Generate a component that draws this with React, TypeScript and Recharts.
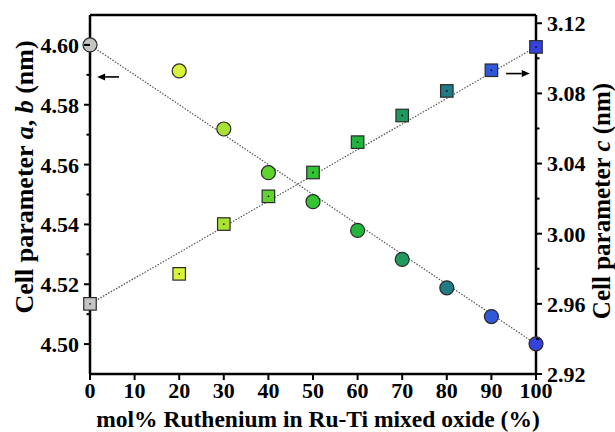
import React from 'react';
import { ComposedChart, Scatter, XAxis, YAxis, ReferenceLine } from 'recharts';

// ---- data ----
const molPercent = [0, 20, 30, 40, 50, 60, 70, 80, 90, 100];
const cellAB = [4.6, 4.5913, 4.5719, 4.5573, 4.5476, 4.538, 4.5283, 4.5188, 4.5092, 4.5001];
const cellC = [2.96, 2.9771, 3.0055, 3.0213, 3.0349, 3.0522, 3.0674, 3.0814, 3.0932, 3.1065];
const xTicks = [0, 10, 20, 30, 40, 50, 60, 70, 80, 90, 100];
const leftTicks = [4.5, 4.51, 4.52, 4.53, 4.54, 4.55, 4.56, 4.57, 4.58, 4.59, 4.6];
const rightTicks = [2.92, 2.94, 2.96, 2.98, 3.0, 3.02, 3.04, 3.06, 3.08, 3.1, 3.12];
const vegardAB = [{ x: 0, y: 4.6 }, { x: 100, y: 4.5 }];
const vegardC = [{ x: 0, y: 2.96 }, { x: 100, y: 3.1065 }];
const arrowAB = [{ x: 6.5, y: 4.5893 }, { x: 1.6, y: 4.5893 }];
const arrowC = [{ x: 93.3, y: 3.0913 }, { x: 98.6, y: 3.0913 }];

const markerColors = ['#c4c4c4', '#d9f23a', '#a9e234', '#5fd42e', '#33c432', '#22b43c', '#1e9a5c', '#1f7c86', '#3158d6', '#3443e0'];

const data = molPercent.map((x, i) => ({ x, ab: cellAB[i], c: cellC[i] }));

const FONT = '"Liberation Serif", "Times New Roman", serif';
const TICK_FONT = 22;
const TICK_SIZE = 6;
const TICK_MARGIN = 5;

const CircleShape = (props: any) => {
  const { cx, cy, payload } = props;
  const i = molPercent.indexOf(payload.x);
  return <circle cx={cx} cy={cy} r={7} fill={markerColors[i]} stroke="#2a2a2a" strokeWidth={1.2} />;
};

const SquareShape = (props: any) => {
  const { cx, cy, payload } = props;
  const i = molPercent.indexOf(payload.x);
  const s = 12.5;
  return (
    <g>
      <rect x={cx - s / 2} y={cy - s / 2} width={s} height={s} fill={markerColors[i]} stroke="#2a2a2a" strokeWidth={1.2} />
      <circle cx={cx} cy={cy} r={0.9} fill="#111" />
    </g>
  );
};

const ArrowShape = (props: any) => {
  const { x1, y1, x2, y2 } = props;
  const dir = x2 > x1 ? 1 : -1;
  const head = 8;
  return (
    <g>
      <line x1={x1} y1={y1} x2={x2 - dir * head} y2={y2} stroke="#000" strokeWidth={1.6} />
      <polygon points={`${x2},${y2} ${x2 - dir * head},${y2 - 3.5} ${x2 - dir * head},${y2 + 3.5}`} fill="#000" />
    </g>
  );
};

const LeftTick = (props: any) => {
  const { x, y, payload } = props;
  const v = payload.value;
  const major = Math.round(v * 100) % 2 === 0;
  const axisX = x + TICK_SIZE + TICK_MARGIN;
  return (
    <g>
      <line x1={axisX - (major ? 6 : 3.5)} x2={axisX} y1={y} y2={y} stroke="#000" strokeWidth={2} />
      {major && (
        <text x={x} y={y} dy="0.36em" textAnchor="end" fontFamily={FONT} fontWeight="bold" fontSize={TICK_FONT} fill="#000">
          {v.toFixed(2)}
        </text>
      )}
    </g>
  );
};

const RightTick = (props: any) => {
  const { x, y, payload } = props;
  const v = payload.value;
  const major = Math.round(v * 100) % 4 === 0;
  const axisX = x - TICK_SIZE - TICK_MARGIN;
  return (
    <g>
      <line x1={axisX} x2={axisX + (major ? 6 : 3.5)} y1={y} y2={y} stroke="#000" strokeWidth={2} />
      {major && (
        <text x={x} y={y} dy="0.36em" textAnchor="start" fontFamily={FONT} fontWeight="bold" fontSize={TICK_FONT} fill="#000">
          {v.toFixed(2)}
        </text>
      )}
    </g>
  );
};

const BottomTick = (props: any) => {
  const { x, y, payload } = props;
  return (
    <text x={x} y={y} dy="0.71em" textAnchor="middle" fontFamily={FONT} fontWeight="bold" fontSize={TICK_FONT} fill="#000">
      {payload.value}
    </text>
  );
};

export default function App() {
  return (
    <div style={{ position: 'absolute', left: 0, top: 0, width: 615, height: 432, background: '#fff' }}>
      <ComposedChart width={615} height={432} data={data} margin={{ top: 15, right: 0, bottom: 0, left: 0 }}>
        <XAxis
          dataKey="x"
          type="number"
          domain={[0, 100]}
          ticks={xTicks}
          height={58}
          axisLine={{ stroke: '#000', strokeWidth: 2.5 }}
          tickLine={{ stroke: '#000', strokeWidth: 2 }}
          tickSize={TICK_SIZE}
          tickMargin={2}
          tick={<BottomTick />}
          label={{
            content: () => (
              <text x={318} y={419} textAnchor="middle" dominantBaseline="central" fontFamily={FONT} fontWeight="bold" fontSize={23.5} fill="#000">
                mol% Ruthenium in Ru-Ti mixed oxide (%)
              </text>
            ),
          }}
        />
        <YAxis
          yAxisId="left"
          orientation="left"
          type="number"
          domain={[4.49, 4.61]}
          ticks={leftTicks}
          interval={0}
          width={90}
          allowDataOverflow
          axisLine={{ stroke: '#000', strokeWidth: 2.5 }}
          tickLine={false}
          tickSize={TICK_SIZE}
          tickMargin={TICK_MARGIN}
          tick={<LeftTick />}
          label={{
            content: () => (
              <text transform="translate(24,177) rotate(-90)" textAnchor="middle" dominantBaseline="central" fontFamily={FONT} fontWeight="bold" fontSize={26} fill="#000">
                Cell parameter <tspan fontStyle="italic">a</tspan>, <tspan fontStyle="italic">b</tspan> (nm)
              </text>
            ),
          }}
        />
        <YAxis
          yAxisId="right"
          orientation="right"
          type="number"
          domain={[2.92, 3.1247]}
          ticks={rightTicks}
          interval={0}
          width={79}
          allowDataOverflow
          axisLine={{ stroke: '#000', strokeWidth: 2.5 }}
          tickLine={false}
          tickSize={TICK_SIZE}
          tickMargin={TICK_MARGIN}
          tick={<RightTick />}
          label={{
            content: () => (
              <text transform="translate(601,201) rotate(-90)" textAnchor="middle" dominantBaseline="central" fontFamily={FONT} fontWeight="bold" fontSize={25} fill="#000">
                Cell parameter <tspan fontStyle="italic">c</tspan> (nm)
              </text>
            ),
          }}
        />
        <ReferenceLine yAxisId="left" y={4.61} stroke="#000" strokeWidth={2.5} />
        <ReferenceLine yAxisId="left" segment={vegardAB} stroke="#555" strokeWidth={1.2} strokeDasharray="1.5 1.5" />
        <ReferenceLine yAxisId="right" segment={vegardC} stroke="#555" strokeWidth={1.2} strokeDasharray="1.5 1.5" />
        <ReferenceLine yAxisId="left" segment={arrowAB} shape={ArrowShape} />
        <ReferenceLine yAxisId="right" segment={arrowC} shape={ArrowShape} />
        <Scatter yAxisId="left" dataKey="ab" shape={CircleShape} isAnimationActive={false} />
        <Scatter yAxisId="right" dataKey="c" shape={SquareShape} isAnimationActive={false} />
      </ComposedChart>
    </div>
  );
}
